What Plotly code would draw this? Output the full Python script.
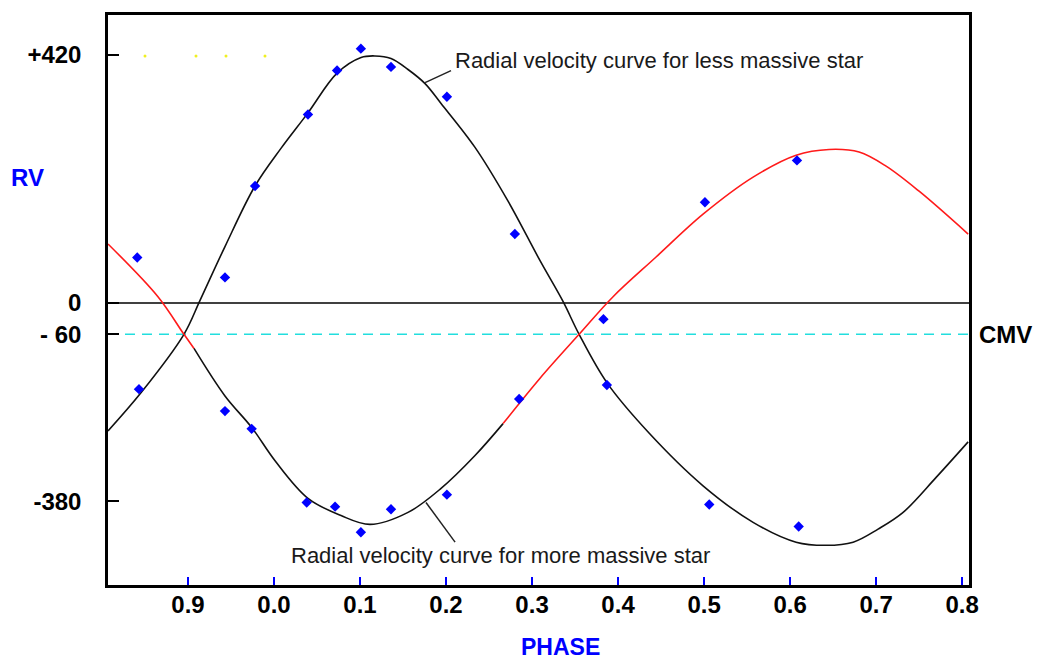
import plotly.graph_objects as go

# ---------------- data ----------------
# Phase is kept continuous (0.807 .. 1.808); ticks are labelled modulo 1.
PHASE_TICKS = [0.9, 1.0, 1.1, 1.2, 1.3, 1.4, 1.5, 1.6, 1.7, 1.8]
PHASE_TICK_TEXT = ["0.9", "0.0", "0.1", "0.2", "0.3", "0.4", "0.5", "0.6", "0.7", "0.8"]
PHASE_RANGE = [0.807, 1.808]

# RV axis in the reference's own vertical scale; its "+420" label sits
# where 475 falls on that scale (the original axis labels are not linear).
RV_TICKS = [475, 0, -60, -380]
RV_TICK_TEXT = ["+420", "0", "- 60", "-380"]
RV_RANGE = [-540, 551.4]
CMV = -60

# observed points
LESS_OBS_PHASE = [0.843, 0.943, 0.978, 1.0395, 1.0733, 1.101, 1.136, 1.201, 1.280, 1.387, 1.506, 1.610]
LESS_OBS_RV = [-165, 49, 224, 361, 445, 487, 452, 395, 132, -157, -386, -428]
MORE_OBS_PHASE = [0.841, 0.943, 0.974, 1.038, 1.071, 1.101, 1.136, 1.201, 1.285, 1.383, 1.501, 1.608]
MORE_OBS_RV = [87, -207, -241, -382, -390, -439, -395, -367, -184, -31, 193, 273]

# fitted curves
LESS_CURVE_PHASE = [0.807, 0.8453, 0.8953, 0.914, 0.943, 0.9779, 1.0081, 1.0395, 1.0733, 1.1012,
                    1.1174, 1.136, 1.1558, 1.1756, 1.1942, 1.2337, 1.2721, 1.3093, 1.336, 1.3547,
                    1.3872, 1.436, 1.4988, 1.557, 1.607, 1.6419, 1.6733, 1.7023, 1.7314, 1.7698,
                    1.807]
LESS_CURVE_RV = [-245, -172, -60, 5, 108, 224, 296, 364, 440, 470,
                 473, 468, 447, 420, 382, 298, 195, 81, 3, -60,
                 -153, -249, -350, -420, -458, -464, -458, -433, -401, -334,
                 -266]

MORE_CURVE_PHASE = [0.807, 0.8651, 0.8953, 0.907, 0.943, 0.9744, 1.0012, 1.0395, 1.0779, 1.1116,
                    1.1558, 1.1942, 1.2337, 1.2663, 1.3093, 1.3547, 1.3942, 1.4442, 1.4988, 1.557,
                    1.607, 1.6453, 1.6802, 1.7116, 1.75, 1.807]
MORE_CURVE_RV = [113, 12, -60, -87, -178, -239, -302, -374, -407, -424,
                 -401, -355, -292, -231, -144, -60, 12, 88, 170, 241,
                 283, 294, 289, 262, 214, 132]
MORE_BLACK_SPAN = (0.907, 1.2663)   # part of the massive-star curve drawn in black

# faint yellow dots near the top label level
YELLOW_PHASE = [0.850, 0.9093, 0.9442, 0.9895]
YELLOW_RV = [473, 473, 473, 473]

# label leader lines and text anchors
LEADER_LESS = ([1.1756, 1.2058], [422, 445])
LEADER_MORE = ([1.1767, 1.2105], [-382, -458])
TEXT_LESS = (1.2081, 464, "Radial velocity curve for less massive star")
TEXT_MORE = (1.0174, -483, "Radial velocity curve for more massive star")

# ---------------- figure ----------------
fig = go.Figure()


def seg(px, py, lo, hi):
    xs, ys = [], []
    for a, b in zip(px, py):
        if lo - 1e-9 <= a <= hi + 1e-9:
            xs.append(a)
            ys.append(b)
    return xs, ys


line_common = dict(shape="spline", smoothing=1.0, width=1.6)

x1, y1 = seg(MORE_CURVE_PHASE, MORE_CURVE_RV, PHASE_RANGE[0] - 1, MORE_BLACK_SPAN[0])
x2, y2 = seg(MORE_CURVE_PHASE, MORE_CURVE_RV, MORE_BLACK_SPAN[0], MORE_BLACK_SPAN[1])
x3, y3 = seg(MORE_CURVE_PHASE, MORE_CURVE_RV, MORE_BLACK_SPAN[1], PHASE_RANGE[1] + 1)

fig.add_trace(go.Scatter(x=LESS_CURVE_PHASE, y=LESS_CURVE_RV, mode="lines",
                         line=dict(color="#111111", **line_common), hoverinfo="skip"))
fig.add_trace(go.Scatter(x=x1, y=y1, mode="lines",
                         line=dict(color="#ff1a1a", **line_common), hoverinfo="skip"))
fig.add_trace(go.Scatter(x=x2, y=y2, mode="lines",
                         line=dict(color="#111111", **line_common), hoverinfo="skip"))
fig.add_trace(go.Scatter(x=x3, y=y3, mode="lines",
                         line=dict(color="#ff1a1a", **line_common), hoverinfo="skip"))

# leader lines
for lx, ly in (LEADER_LESS, LEADER_MORE):
    fig.add_trace(go.Scatter(x=lx, y=ly, mode="lines",
                             line=dict(color="#222222", width=1.5), hoverinfo="skip"))

# yellow dots
fig.add_trace(go.Scatter(x=YELLOW_PHASE, y=YELLOW_RV, mode="markers",
                         marker=dict(color="#f0f020", size=3), hoverinfo="skip"))

# observations
fig.add_trace(go.Scatter(x=LESS_OBS_PHASE, y=LESS_OBS_RV, mode="markers",
                         marker=dict(symbol="diamond", color="#0000ff", size=8)))
fig.add_trace(go.Scatter(x=MORE_OBS_PHASE, y=MORE_OBS_RV, mode="markers",
                         marker=dict(symbol="diamond", color="#0000ff", size=8)))

# zero line and CMV line
fig.add_hline(y=0, line=dict(color="black", width=1.5), layer="below")
fig.add_hline(y=CMV, line=dict(color="#22dede", width=1.6, dash="10px,7px"), layer="below")

# text labels
for tx, ty, tt in (TEXT_LESS, TEXT_MORE):
    fig.add_annotation(x=tx, y=ty, text=tt, showarrow=False, xanchor="left", yanchor="middle",
                       font=dict(family="Arial, Liberation Sans", size=22, color="#1a1a1a"))

fig.add_annotation(x=1.009, xref="paper", y=CMV, yref="y", text="<b>CMV</b>", showarrow=False,
                   xanchor="left", yanchor="middle",
                   font=dict(family="Arial, Liberation Sans", size=24, color="black"))
fig.add_annotation(x=-0.093, xref="paper", y=0.7155, yref="paper", text="<b>RV</b>", showarrow=False,
                   xanchor="center", yanchor="middle",
                   font=dict(family="Arial, Liberation Sans", size=24, color="#0000ff"))
fig.add_annotation(x=0.526, xref="paper", y=-0.1082, yref="paper", text="<b>PHASE</b>", showarrow=False,
                   xanchor="center", yanchor="middle",
                   font=dict(family="Arial, Liberation Sans", size=23, color="#0000ff"))

fig.update_xaxes(range=PHASE_RANGE, tickvals=PHASE_TICKS, ticktext=PHASE_TICK_TEXT,
                 ticks="inside", ticklen=8, tickwidth=2, tickcolor="#0000ff",
                 showgrid=False, zeroline=False, showline=True, linecolor="black",
                 linewidth=2.5, mirror=True, ticklabelstandoff=-4,
                 tickfont=dict(family="Arial, Liberation Sans", size=24, color="black", weight="bold"))
fig.update_yaxes(range=RV_RANGE, tickvals=RV_TICKS, ticktext=RV_TICK_TEXT,
                 ticks="inside", ticklen=11, tickwidth=2, tickcolor="black",
                 showgrid=False, zeroline=False, showline=True, linecolor="black",
                 linewidth=2.5, mirror=True, ticklabelstandoff=19,
                 tickfont=dict(family="Arial, Liberation Sans", size=24, color="black", weight="bold"))

# the page body adds an 8px margin, so the figure is sized to fit inside it
fig.update_layout(width=1027, height=653, showlegend=False,
                  margin=dict(l=100, r=66, t=4, b=76),
                  paper_bgcolor="white", plot_bgcolor="white")

fig.write_html("out.html")
